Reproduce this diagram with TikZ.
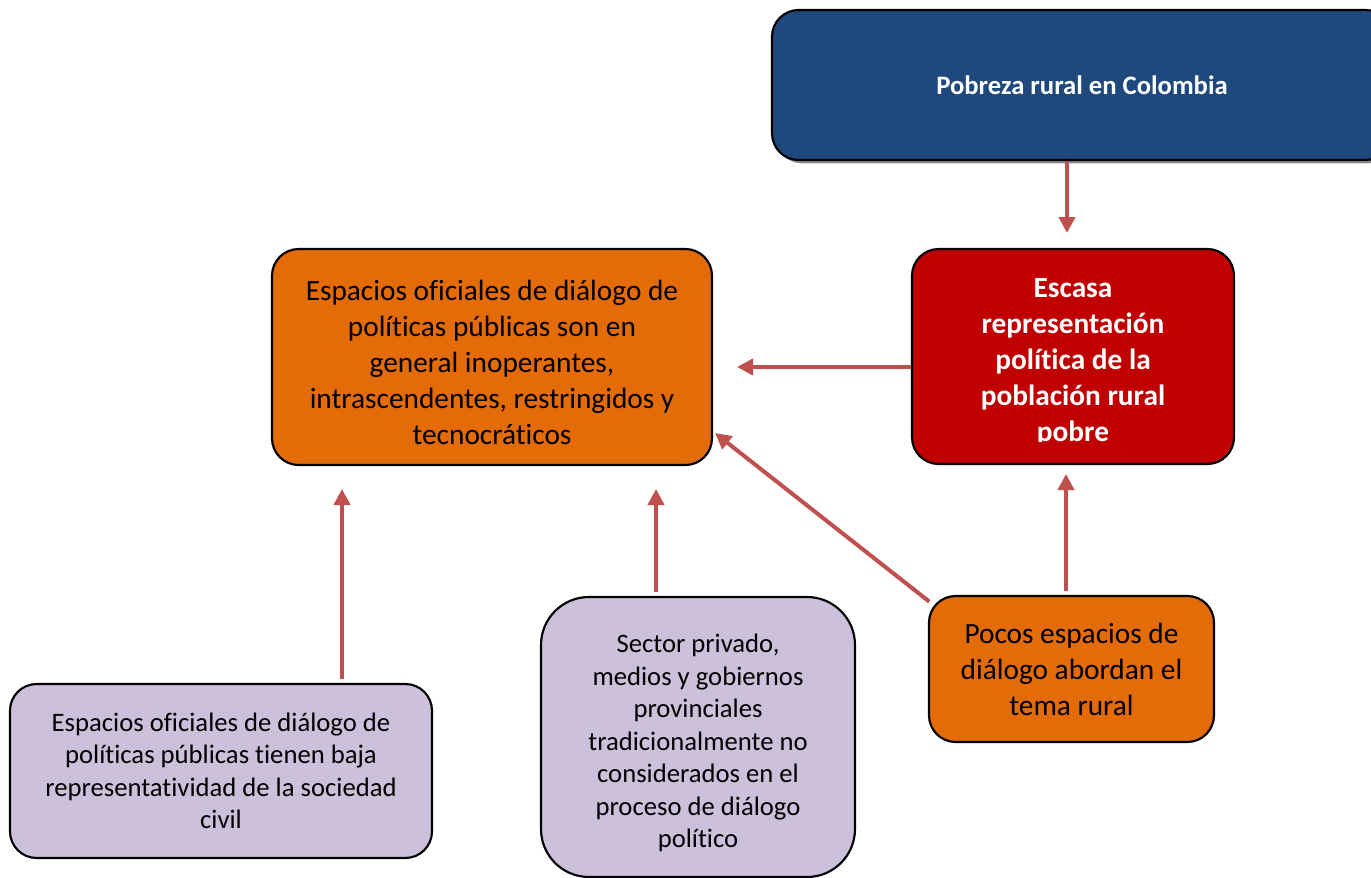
\documentclass[tikz,border=0pt]{standalone}
\usepackage{fontspec}
\setmainfont{Carlito}[Ligatures=NoCommon]
\usetikzlibrary{arrows.meta,shadows}
\definecolor{navy}{HTML}{1F497D}
\definecolor{darkred}{HTML}{C00000}
\definecolor{orng}{HTML}{E36C09}
\definecolor{lilac}{HTML}{CCC0DA}
\definecolor{arrowc}{HTML}{C0504D}
\begin{document}
\begin{tikzpicture}[x=0.75pt,y=-0.75pt,
  box/.style={draw=black, line width=1.6pt, rounded corners=20pt, inner sep=0pt, align=center},
  bigfont/.style={font=\fontsize{22}{27}\selectfont},
  midfont/.style={font=\fontsize{20}{24.4}\selectfont},
  arr/.style={draw=arrowc, line width=3pt, -{Triangle[length=12pt,width=12pt]}},
]
\useasboundingbox (0,0) rectangle (1371,878);
\clip (0,0) rectangle (1371,878);

% top blue box
\node[box, fill=navy, text=white, minimum width=465pt, minimum height=112.5pt,
      font=\bfseries\fontsize{20}{24}\selectfont,
      drop shadow={shadow xshift=2.5pt, shadow yshift=-2.5pt, fill=black!45, opacity=1}]
  (pob) at (1082,85) {Pobreza rural en Colombia};

% red box
\node[box, fill=darkred, minimum width=241.5pt, minimum height=161.25pt] (esc) at (1073,356.5) {};
\begin{scope}
  \clip (912,249) rectangle (1234,441);
  \node[align=center, text=white, font=\bfseries\fontsize{22}{27}\selectfont, inner sep=0pt]
    (esct) at (1073,362) {Escasa\\representación\\política de la\\población rural\\pobre};
\end{scope}

% main orange box
\node[box, fill=orng, minimum width=330pt, minimum height=162pt] (esp) at (492,357) {};
\node[align=center, bigfont, inner sep=0pt] (espt) at (492,362)
  {Espacios oficiales de diálogo de\\políticas públicas son en\\general inoperantes,\\intrascendentes, restringidos y\\tecnocráticos};

% small orange box
\node[box, fill=orng, minimum width=213.75pt, minimum height=109.5pt, bigfont]
  (poc) at (1071.5,669) {Pocos espacios de\\diálogo abordan el\\tema rural};

% left purple box
\node[box, fill=lilac, minimum width=316.5pt, minimum height=130.5pt, midfont]
  (eso) at (221,771) {Espacios oficiales de diálogo de\\políticas públicas tienen baja\\representatividad de la sociedad\\civil};

% middle purple box
\node[box, fill=lilac, rounded corners=36pt, minimum width=235.5pt, minimum height=210pt]
  (sec) at (698,737) {};
\node[align=center, midfont, inner sep=0pt] (sect) at (698,743)
  {Sector privado,\\medios y gobiernos\\provinciales\\tradicionalmente no\\considerados en el\\proceso de diálogo\\político};

% arrow tip coordinates
\coordinate (t1) at (1067,233);
\coordinate (t2) at (737,367);
\coordinate (t3) at (1066,474);
\coordinate (t4) at (715,433);
\coordinate (t5) at (656,489);
\coordinate (t6) at (342,489);

\draw[arr] (pob.south -| t1) -- (t1);
\draw[arr] (esc.west |- t2) -- (t2);
\draw[arr] ([yshift=3pt]poc.north -| t3) -- (t3);
\draw[arr] ([shift={(1pt,-5pt)}]poc.north west) -- (t4);
\draw[arr] ([yshift=3pt]sec.north -| t5) -- (t5);
\draw[arr] ([yshift=3pt]eso.north -| t6) -- (t6);
\end{tikzpicture}
\end{document}
